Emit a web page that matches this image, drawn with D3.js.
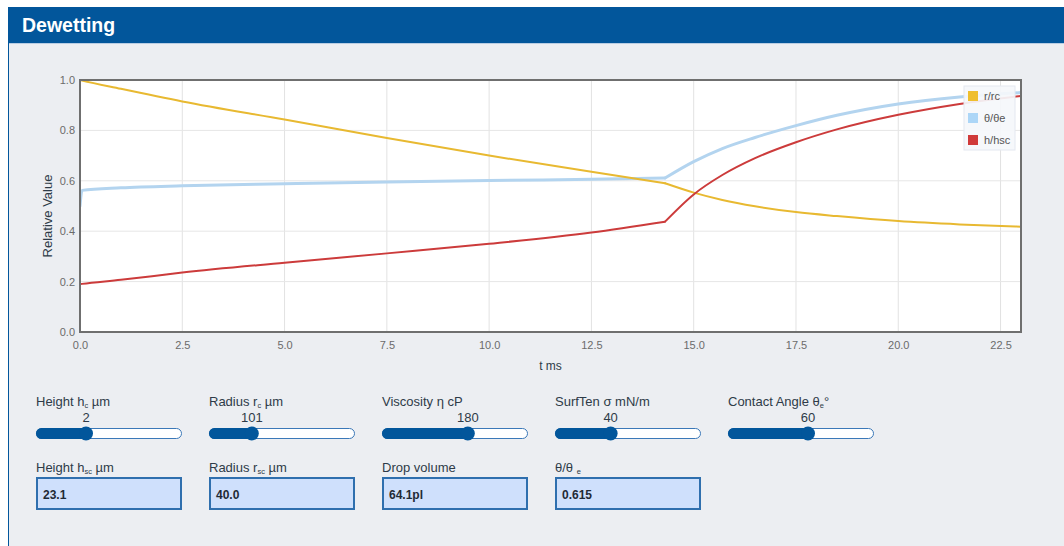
<!DOCTYPE html>
<html>
<head>
<meta charset="utf-8">
<script src="https://cdn.jsdelivr.net/npm/d3@7"></script>
<style>
  html, body { margin: 0; padding: 0; background: #ffffff; }
  svg { display: block; font-family: Arial, "Liberation Sans", Helvetica, sans-serif; }
</style>
</head>
<body>
<svg id="chart" width="1064" height="546"></svg>
<script>
// ---------- data ----------
const timeMs   = [0, 0.05, 1, 2.5, 5, 7.5, 10, 12.5, 14.3, 15, 15.7, 16.5, 17.5, 18.5, 20, 21.5, 23];
const rOverRc  = [1.0, 0.998, 0.965, 0.915, 0.843, 0.770, 0.700, 0.636, 0.590, 0.553, 0.524, 0.499, 0.476, 0.460, 0.440, 0.427, 0.418];
const thetaRel = [0.50, 0.562, 0.572, 0.580, 0.588, 0.595, 0.601, 0.606, 0.611, 0.676, 0.728, 0.772, 0.819, 0.860, 0.905, 0.933, 0.950];
const hOverHsc = [0.19, 0.191, 0.207, 0.236, 0.275, 0.312, 0.350, 0.395, 0.438, 0.546, 0.623, 0.690, 0.753, 0.804, 0.862, 0.905, 0.937];
const breakTime = 14.3;   // phase change: end of spreading-film regime
const seriesNames = ["r/rc", "θ/θe", "h/hsc"];
const xTicks = [0, 2.5, 5, 7.5, 10, 12.5, 15, 17.5, 20, 22.5];
const yTicks = [0, 0.2, 0.4, 0.6, 0.8, 1.0];

const sliderLabels = [["Height h", "c", " µm"], ["Radius r", "c", " µm"], ["Viscosity η cP", "", ""], ["SurfTen σ mN/m", "", ""], ["Contact Angle θ", "e", "°"]];
const sliderValues = [2, 101, 180, 40, 60];
const sliderMin    = [0.5, 10, 1, 10, 10];
const sliderMax    = [5, 335, 300, 90, 100];

const outputLabels = [["Height h", "sc", " µm"], ["Radius r", "sc", " µm"], ["Drop volume", "", ""], ["θ/θ ", "e", ""]];
const outputValues = ["23.1", "40.0", "64.1pl", "0.615"];

// ---------- styles ----------
const colors = ["#e8b931", "#b3d4ef", "#cc3b3b"];
const swatch = ["#efbf2e", "#acd6f7", "#d03a3a"];
const widths = [2, 3, 2];

const svg = d3.select("#chart");

// page / panel
svg.append("rect").attr("x", 8).attr("y", 43).attr("width", 1056).attr("height", 503).attr("fill", "#eceef2");
svg.append("line").attr("x1", 8.5).attr("x2", 8.5).attr("y1", 7).attr("y2", 546).attr("stroke", "#02569b").attr("stroke-width", 1);
svg.append("rect").attr("x", 8).attr("y", 7).attr("width", 1056).attr("height", 36).attr("fill", "#02569b");
svg.append("line").attr("x1", 9).attr("x2", 1064).attr("y1", 43.5).attr("y2", 43.5).attr("stroke", "#b9cde3");
svg.append("text").attr("x", 22).attr("y", 32).attr("fill", "#ffffff").attr("font-size", 19.5).attr("font-weight", "bold").text("Dewetting");

// ---------- chart ----------
const pL = 80, pR = 1021, pT = 80, pB = 332;
const x = d3.scaleLinear().domain([0, 23]).range([pL, pR]);
const y = d3.scaleLinear().domain([0, 1]).range([pB, pT]);

svg.append("rect").attr("x", pL).attr("y", pT).attr("width", pR - pL).attr("height", pB - pT).attr("fill", "#ffffff");

const grid = svg.append("g");
grid.selectAll("line.gx").data(xTicks.slice(1)).join("line")
  .attr("x1", d => x(d)).attr("x2", d => x(d)).attr("y1", pT).attr("y2", pB)
  .attr("stroke", "#e2e2e2").attr("stroke-width", 1);
grid.selectAll("line.gy").data(yTicks.slice(1)).join("line")
  .attr("y1", d => y(d)).attr("y2", d => y(d)).attr("x1", pL).attr("x2", pR)
  .attr("stroke", "#e6e6e6").attr("stroke-width", 1);

// axes
const xAxis = svg.append("g").attr("transform", `translate(0,${pB})`)
  .call(d3.axisBottom(x).tickValues(xTicks).tickFormat(d3.format(".1f")).tickSize(0).tickPadding(9));
const yAxis = svg.append("g").attr("transform", `translate(${pL},0)`)
  .call(d3.axisLeft(y).tickValues(yTicks).tickFormat(d3.format(".1f")).tickSize(0).tickPadding(5));
[xAxis, yAxis].forEach(a => {
  a.select(".domain").remove();
  a.selectAll("text").attr("fill", "#6b6b6b").attr("font-size", 11).attr("font-family", "Arial, 'Liberation Sans', sans-serif");
});

svg.append("defs").append("clipPath").attr("id", "clip")
  .append("rect").attr("x", pL).attr("y", pT).attr("width", pR - pL).attr("height", pB - pT);

const allSeries = [rOverRc, thetaRel, hOverHsc];
const line = d3.line().x(d => x(d.t)).y(d => y(d.v)).curve(d3.curveMonotoneX);
const plot = svg.append("g").attr("clip-path", "url(#clip)");
[1, 0, 2].forEach(k => {
  const pts = timeMs.map((t, i) => ({ t, v: allSeries[k][i] }));
  const segA = pts.filter(p => p.t <= breakTime);
  const segB = pts.filter(p => p.t >= breakTime);
  [segA, segB].forEach(seg => {
    plot.append("path").datum(seg).attr("d", line)
      .attr("fill", "none").attr("stroke", colors[k]).attr("stroke-width", widths[k])
      .attr("stroke-linejoin", "round").attr("stroke-linecap", "round");
  });
});

// frame
svg.append("rect").attr("x", pL).attr("y", pT).attr("width", pR - pL).attr("height", pB - pT)
  .attr("fill", "none").attr("stroke", "#6f6f6f").attr("stroke-width", 2);

// axis titles
svg.append("text").attr("x", (pL + pR) / 2).attr("y", 370).attr("text-anchor", "middle")
  .attr("fill", "#2e3b48").attr("font-size", 12).text("t ms");
svg.append("text").attr("transform", "translate(52,216) rotate(-90)").attr("text-anchor", "middle")
  .attr("fill", "#2e3b48").attr("font-size", 13).text("Relative Value");

// legend
const lg = svg.append("g").attr("transform", "translate(964,86)");
lg.append("rect").attr("width", 51).attr("height", 64).attr("fill", "#f5f7fb").attr("fill-opacity", 0.92)
  .attr("stroke", "#e4e8f0").attr("stroke-width", 1);
const le = lg.selectAll("g").data(seriesNames).join("g").attr("transform", (d, i) => `translate(4,${10 + i * 22})`);
le.append("rect").attr("x", 0).attr("y", -5).attr("width", 10).attr("height", 10).attr("fill", (d, i) => swatch[i]);
le.append("text").attr("x", 16).attr("y", 4).attr("fill", "#555").attr("font-size", 11).text(d => d);

// ---------- sliders ----------
const colX = [36, 209, 382, 555, 728];
const trackW = 145;
function labelWithSub(g, parts, xPos, yPos) {
  const t = g.append("text").attr("x", xPos).attr("y", yPos).attr("fill", "#2e3b48").attr("font-size", 13);
  t.append("tspan").text(parts[0]);
  if (parts[1]) t.append("tspan").attr("font-size", 7.5).attr("dy", 2).text(parts[1]);
  if (parts[2]) t.append("tspan").attr("dy", parts[1] ? -2 : 0).text(parts[2]);
}
sliderValues.forEach((v, i) => {
  const g = svg.append("g");
  const sx = d3.scaleLinear().domain([sliderMin[i], sliderMax[i]]).range([colX[i] + 5, colX[i] + trackW - 5]);
  labelWithSub(g, sliderLabels[i], colX[i], 406);
  const tx = sx(v);
  g.append("text").attr("x", tx).attr("y", 422).attr("text-anchor", "middle").attr("fill", "#2e3b48").attr("font-size", 13).text(v);
  g.append("rect").attr("x", colX[i] + 0.5).attr("y", 428.5).attr("width", trackW).attr("height", 10).attr("rx", 5)
    .attr("fill", "#ffffff").attr("stroke", "#3b78b8").attr("stroke-width", 1);
  g.append("rect").attr("x", colX[i]).attr("y", 428).attr("width", tx - colX[i]).attr("height", 11).attr("rx", 5.5)
    .attr("fill", "#02569b");
  g.append("circle").attr("cx", tx).attr("cy", 433.5).attr("r", 7).attr("fill", "#02569b");
});

// ---------- outputs ----------
outputValues.forEach((v, i) => {
  const g = svg.append("g");
  labelWithSub(g, outputLabels[i], colX[i], 472);
  g.append("rect").attr("x", colX[i] + 1).attr("y", 478).attr("width", trackW - 1).attr("height", 31)
    .attr("fill", "#cfe0fc").attr("stroke", "#2f6fae").attr("stroke-width", 2);
  g.append("text").attr("x", colX[i] + 7).attr("y", 499).attr("fill", "#1f2a35").attr("font-size", 12)
    .attr("font-weight", "bold").text(v);
});
</script>
</body>
</html>
